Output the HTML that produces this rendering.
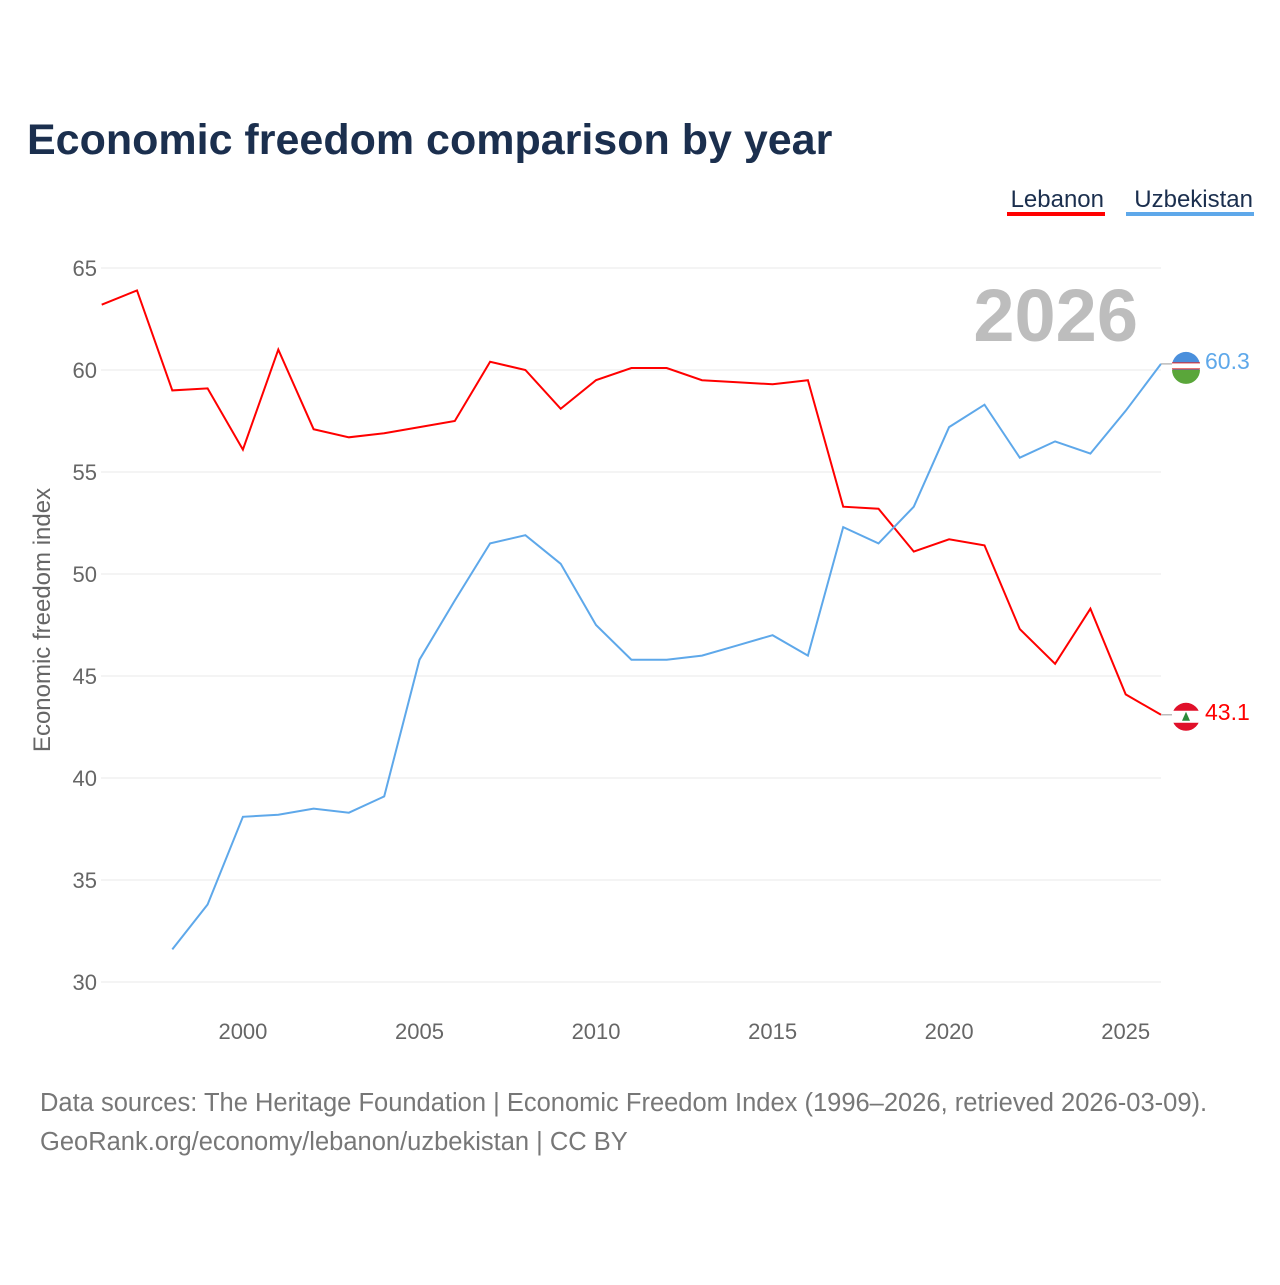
<!DOCTYPE html>
<html><head><meta charset="utf-8">
<style>
body{margin:0;background:#fff;font-family:"Liberation Sans",sans-serif;}
#wrap{position:relative;width:1280px;height:1280px;}
</style></head>
<body>
<div id="wrap">
<svg id="chart" width="1280" height="1280" xmlns="http://www.w3.org/2000/svg">
<text x="27" y="154" font-size="43" font-weight="bold" fill="#1b2f4e" font-family="Liberation Sans, sans-serif">Economic freedom comparison by year</text>
<g>
<text x="1104" y="207" font-size="24" fill="#1b2f4e" text-anchor="end">Lebanon</text>
<rect x="1007" y="212" width="98" height="4" fill="#ff0000"/>
</g>
<g>
<text x="1253" y="207" font-size="24" fill="#1b2f4e" text-anchor="end">Uzbekistan</text>
<rect x="1126" y="212" width="128" height="4" fill="#5ea8ea"/>
</g>
<text x="1138" y="341" font-size="74" font-weight="bold" fill="#bdbdbd" text-anchor="end">2026</text>
<text transform="translate(50,620) rotate(-90)" font-size="24" fill="#666" text-anchor="middle">Economic freedom index</text>
<g id="grid"></g><g id="lines"></g>
<text x="40" y="1111" font-size="25.5" fill="#777">Data sources: The Heritage Foundation | Economic Freedom Index (1996–2026, retrieved 2026-03-09).</text>
<text x="40" y="1150" font-size="25.5" fill="#777">GeoRank.org/economy/lebanon/uzbekistan | CC BY</text>
</svg>
</div>
<script>
const years=[1996,1997,1998,1999,2000,2001,2002,2003,2004,2005,2006,2007,2008,2009,2010,2011,2012,2013,2014,2015,2016,2017,2018,2019,2020,2021,2022,2023,2024,2025,2026];
const lebanon=[63.2,63.9,59.0,59.1,56.1,61.0,57.1,56.7,56.9,57.2,57.5,60.4,60.0,58.1,59.5,60.1,60.1,59.5,59.4,59.3,59.5,53.3,53.2,51.1,51.7,51.4,47.3,45.6,48.3,44.1,43.1];
const uzbekistan=[null,null,31.6,33.8,38.1,38.2,38.5,38.3,39.1,45.8,48.7,51.5,51.9,50.5,47.5,45.8,45.8,46.0,46.5,47.0,46.0,52.3,51.5,53.3,57.2,58.3,55.7,56.5,55.9,58.0,60.3];
const yTicks=[30,35,40,45,50,55,60,65];
const xTicks=[2000,2005,2010,2015,2020,2025];
const NS="http://www.w3.org/2000/svg";
const X=y=>101.7+(y-1996)*(1161-101.7)/30;
const Y=v=>982-(v-30)*(714/35);
const grid=document.getElementById('grid'),lines=document.getElementById('lines');
function mk(t,a,p){const e=document.createElementNS(NS,t);for(const k in a)e.setAttribute(k,a[k]);p.appendChild(e);return e;}
yTicks.forEach(v=>{
 const l=mk('line',{x1:101,x2:1161,y1:Y(v),y2:Y(v),stroke:'#e8e8e8','stroke-width':1},grid);
 
 
 const t=mk('text',{x:97,y:Y(v)+8,'font-size':22,fill:'#666','text-anchor':'end'},grid);t.textContent=v;
 
 
});
xTicks.forEach(v=>{
 const t=mk('text',{x:X(v),y:1039,'font-size':22,fill:'#666','text-anchor':'middle'},grid);t.textContent=v;
 
 
});
function draw(vals,color,name){
 let d='';vals.forEach((v,i)=>{if(v==null)return;d+=(d?'L':'M')+X(years[i]).toFixed(1)+','+Y(v).toFixed(1);});
 const p=mk('path',{d:d,fill:'none',stroke:color,'stroke-width':2},lines);
 
 
 const last=vals[vals.length-1],yy=Y(last);
 mk('line',{x1:1161,x2:1175,y1:yy,y2:yy,stroke:'#bbb','stroke-width':1.5},lines);
 const g=mk('g',{},lines);
 
 
 if(name==='lebanon'){
  mk('circle',{cx:1186,cy:yy+2,r:14,fill:'#e0102a'},g);
  mk('rect',{x:1172,y:yy-4,width:28,height:12,fill:'#fff'},g);
  mk('path',{d:`M1186 ${yy-3}l-4 9h8z`,fill:'#2a8a3a'},g);
 }else{
  mk('circle',{cx:1186,cy:yy+2,r:14,fill:'#4a8fdc'},g);
  mk('rect',{x:1172,y:yy-1,width:28,height:6,fill:'#fff'},g);
  mk('path',{d:`M1172 ${yy+6}h28a14 14 0 0 1 -28 0z`,fill:'#5aa63a'},g);
  mk('line',{x1:1172,x2:1200,y1:yy-1,y2:yy-1,stroke:'#d22',"stroke-width":1},g);
  mk('line',{x1:1172,x2:1200,y1:yy+5,y2:yy+5,stroke:'#d22',"stroke-width":1},g);
 }
 const t=mk('text',{x:1205,y:yy+5,'font-size':23,fill:color},lines);t.textContent=last.toFixed(1);
 
 
}
draw(lebanon,'#ff0000','lebanon');
draw(uzbekistan,'#5ea8ea','uzbekistan');
</script>
</body></html>
